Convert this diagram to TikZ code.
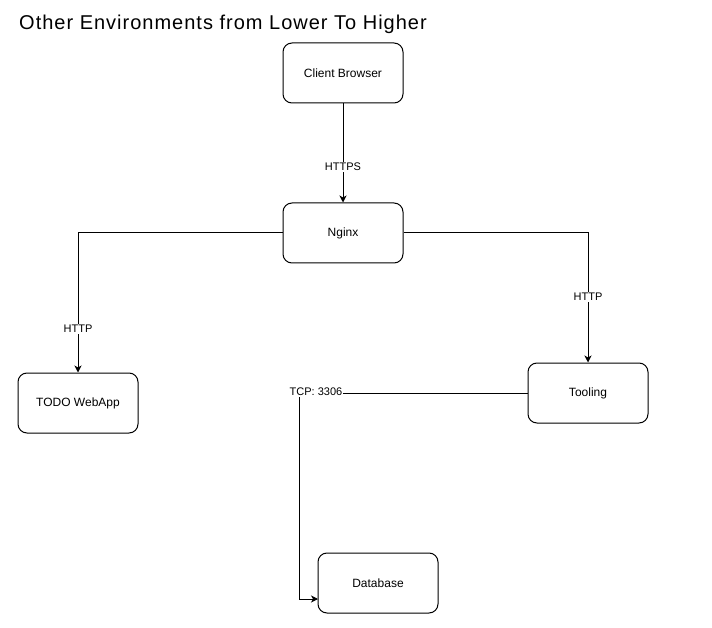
\documentclass[tikz,border=0pt]{standalone}
\usepackage{fontspec}
\setmainfont{Liberation Sans}
\newfontfamily\titlefont[LetterSpace=5]{Liberation Sans}
\usetikzlibrary{arrows.meta}
\begin{document}
\begin{tikzpicture}[x=1pt,y=-1pt,
  box/.style={draw=black,line width=1pt,rounded corners=9pt,minimum width=120pt,minimum height=60pt,inner sep=0pt,font=\fontsize{12}{14}\selectfont,fill=white},
  lbl/.style={fill=white,inner sep=1pt,font=\fontsize{11}{13}\selectfont},
  conn/.style={draw=black,line width=1pt},
  arr/.style={conn,-{Stealth[length=7pt,width=7pt,inset=2pt]}}]
\useasboundingbox (0,0) rectangle (712,628);
\node[anchor=base west,inner sep=0pt,font=\titlefont\fontsize{20}{24}\selectfont] (title) at (19,30) {Other Environments from Lower To Higher};
\node[box] (client) at (343,73) {Client Browser};
\node[box] (nginx) at (343,233) {Nginx};
\node[box] (todo) at (78,403) {TODO WebApp};
\node[box] (tool) at (588,393) {Tooling};
\node[box] (db) at (378,583) {Database};
\coordinate (corner) at (299,393);
\coordinate (dbin) at (318,599);
\draw[arr] (client) -- (nginx);
\draw[arr] (nginx.west) -| (todo.north);
\draw[arr] (nginx.east) -| (tool.north);
\draw[arr] (tool.west) -- (corner) -- (corner |- dbin) -- (dbin);
\node[lbl] (l1) at (343,167) {HTTPS};
\node[lbl] (l2) at (78,329) {HTTP};
\node[lbl] (l3) at (588,297) {HTTP};
\node[lbl] (l4) at (316,392) {TCP: 3306};
\end{tikzpicture}
\end{document}
